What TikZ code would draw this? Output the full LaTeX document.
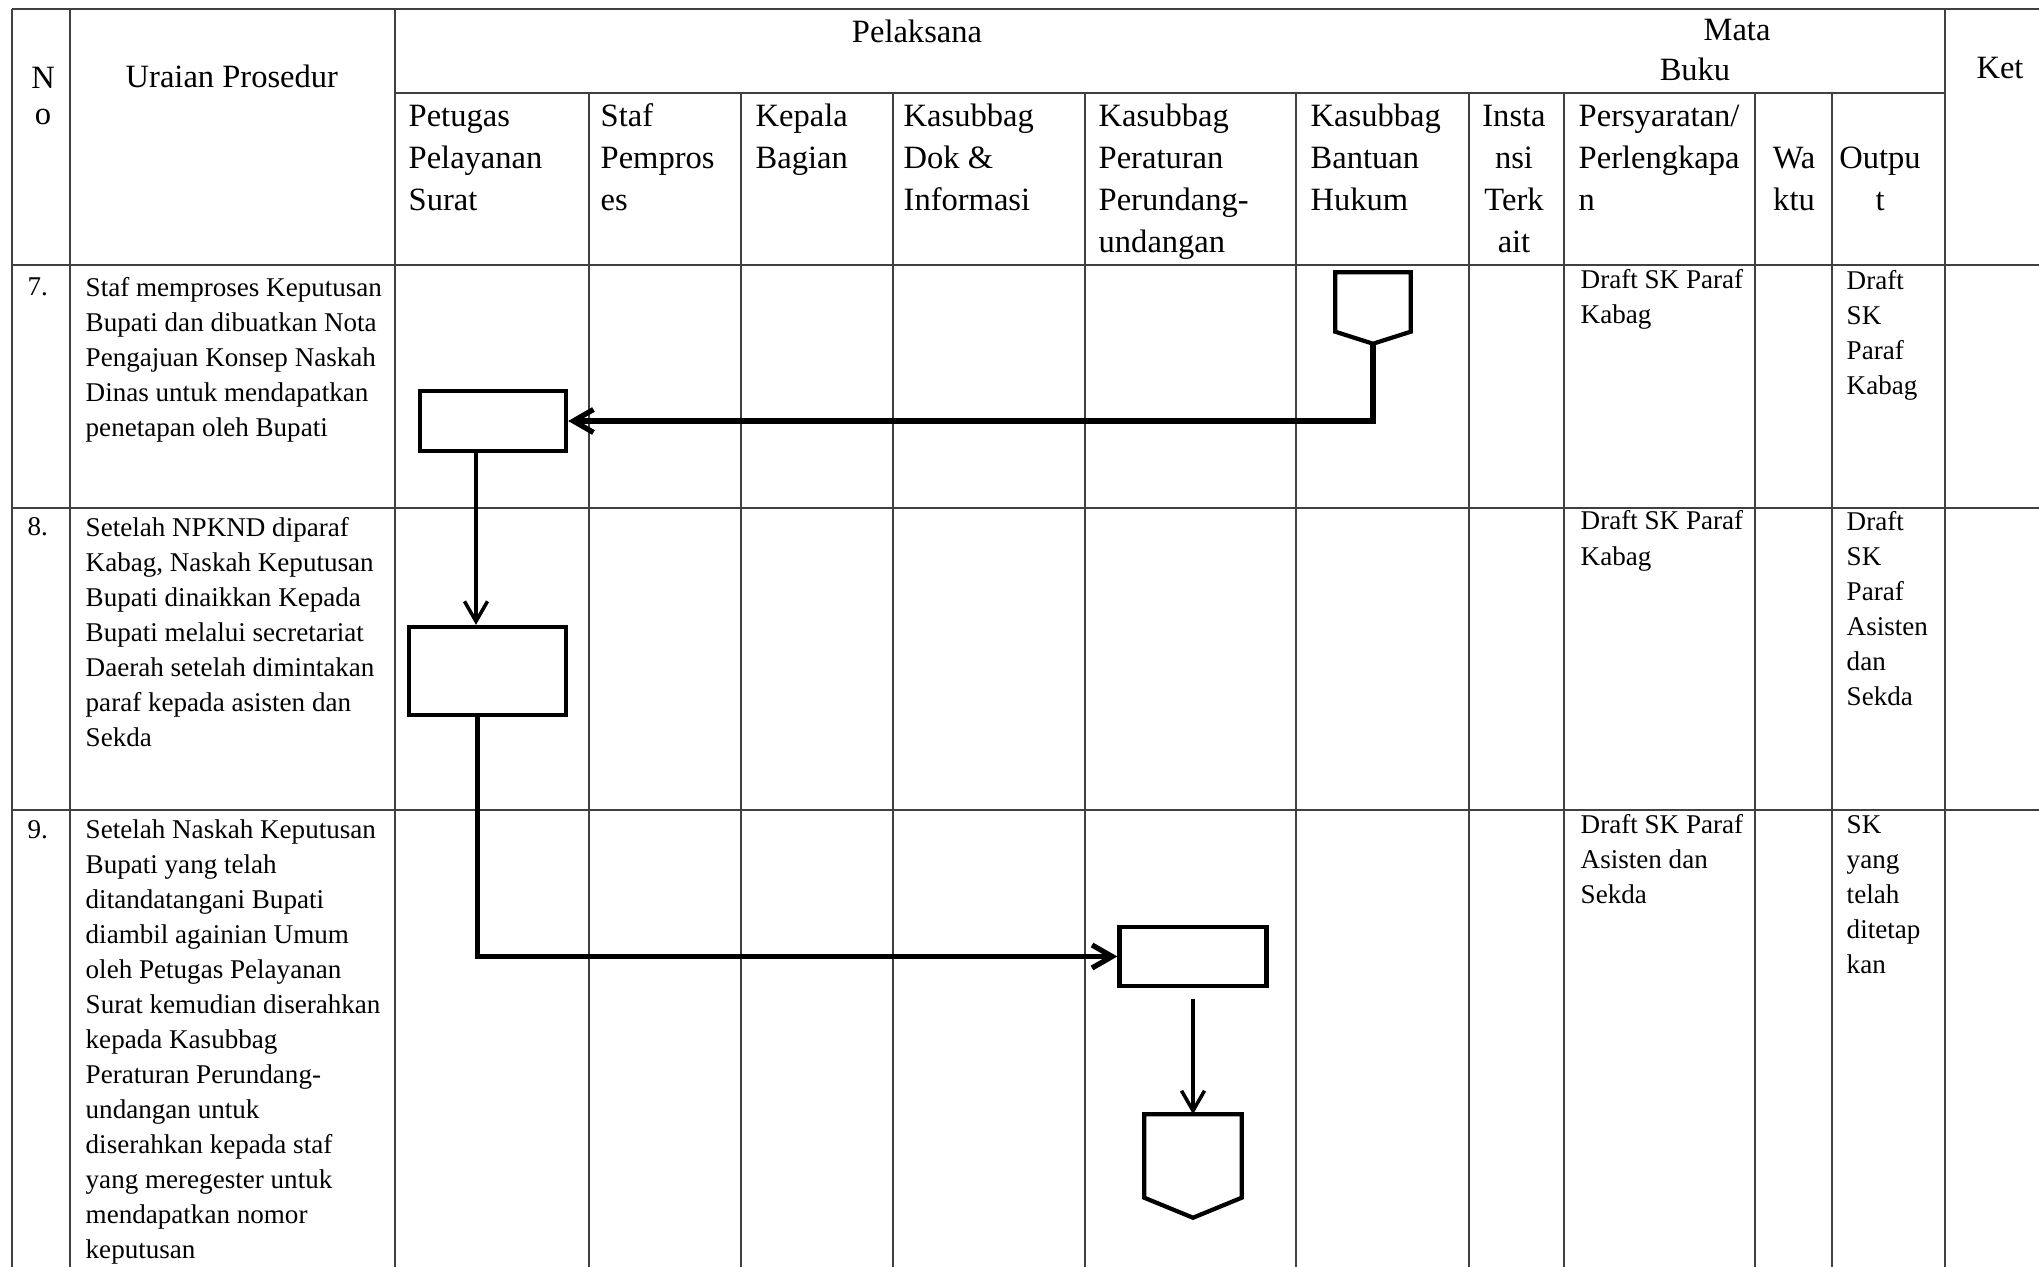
\documentclass[tikz,border=0pt]{standalone}
\usepackage{fontspec}
\setmainfont{Liberation Serif}
\usetikzlibrary{arrows.meta,calc}

\newcommand{\offpagepath}[2]{\draw[shapeline] (#1.north west) -- (#1.north east) -- ([yshift=#2]#1.south east) -- (#1.south) -- ([yshift=#2]#1.south west) -- cycle;}

\tikzset{
	grid/.style={line width=0.6pt, black!75},
	head/.style={font=\fontsize{9.25}{11.87}\selectfont, inner sep=0, align=left, anchor=base west},
	cell/.style={font=\fontsize{7.7}{9.96}\selectfont, inner sep=0, align=left, anchor=base west},
	proc/.style={rectangle, draw, line width=1.2pt, inner sep=0},
	offpg/.style={rectangle, inner sep=0},
	shapeline/.style={line width=1.2pt, line join=miter},
	flow/.style={line width=1.5pt},
	link/.style={line width=1pt},
	>={Straight Barb[length=0.2cm, width=0.23cm]}
}

\begin{document}
\begin{tikzpicture}[x=0.01cm, y=-0.01cm]
		\useasboundingbox (0,0) rectangle (2039,1267);

		\draw[grid] (12,9) -- (2039,9);
		\draw[grid] (395,93) -- (1945,93);
		\draw[grid] (12,265) -- (2039,265);
		\draw[grid] (12,508) -- (2039,508);
		\draw[grid] (12,810) -- (2039,810);
		\foreach \x in {12,70,395,1945} \draw[grid] (\x,9) -- (\x,1267);
		\foreach \x in {589,741,893,1085,1296,1469,1564,1755,1832} \draw[grid] (\x,93) -- (\x,1267);

		\path (43,125) node[head, anchor=base, align=center, font=\fontsize{9.25}{10.24}\selectfont] (hno) {N\\o}
  		(125,88) node[head] (hur) {Uraian Prosedur}
  		(917,43) node[head, anchor=base] (hpel) {Pelaksana}
  		(1737,41) node[head, anchor=base] (hmata) {Mata}
  		(1695,81) node[head, anchor=base] (hbuku) {Buku}
  		(2000,79) node[head, anchor=base] (hket) {Ket}
  		(408,210.4) node[head] (hpet) {Petugas\\Pelayanan\\Surat}
  		(600,210.4) node[head] (hstaf) {Staf\\Pempros\\es}
  		(755,168.7) node[head] (hkep) {Kepala\\Bagian}
  		(903,210.4) node[head] (hdok) {Kasubbag\\Dok \&\\Informasi}
  		(1098,252.1) node[head] (hper) {Kasubbag\\Peraturan\\Perundang-\\undangan}
  		(1310,210.4) node[head] (hbant) {Kasubbag\\Bantuan\\Hukum}
  		(1514,252.1) node[head, anchor=base, align=center] (hins) {Insta\\nsi\\Terk\\ait}
  		(1578,210.4) node[head] (hsyar) {Persyaratan/\\Perlengkapa\\n}
  		(1794,210.7) node[head, anchor=base, align=center] (hwak) {Wa\\ktu}
  		(1880,210.7) node[head, anchor=base, align=center] (hout) {Outpu\\t};

		\path (27,296) node[cell] (n7) {7.}
  		(85,436.2) node[cell] (u7) {Staf memproses Keputusan\\Bupati dan dibuatkan Nota\\Pengajuan Konsep Naskah\\Dinas untuk mendapatkan\\penetapan oleh Bupati}
  		(1580,324) node[cell] (p7) {Draft SK Paraf\\Kabag}
  		(1846,394.1) node[cell] (o7) {Draft\\SK\\Paraf\\Kabag}
  		(27,536) node[cell] (n8) {8.}
  		(85,746.2) node[cell] (u8) {Setelah NPKND diparaf\\Kabag, Naskah Keputusan\\Bupati dinaikkan Kepada\\Bupati melalui secretariat\\Daerah setelah dimintakan\\paraf kepada asisten dan\\Sekda}
  		(1580,565) node[cell] (p8) {Draft SK Paraf\\Kabag}
  		(1846,705.2) node[cell] (o8) {Draft\\SK\\Paraf\\Asisten\\dan\\Sekda}
  		(27,838) node[cell] (n9) {9.}
  		(85,1258.5) node[cell] (u9) {Setelah Naskah Keputusan\\Bupati yang telah\\ditandatangani Bupati\\diambil againian Umum\\oleh Petugas Pelayanan\\Surat kemudian diserahkan\\kepada Kasubbag\\Peraturan Perundang-\\undangan untuk\\diserahkan kepada staf\\yang meregester untuk\\mendapatkan nomor\\keputusan}
  		(1580,903.1) node[cell] (p9) {Draft SK Paraf\\Asisten dan\\Sekda}
  		(1846,973.2) node[cell] (o9) {SK\\yang\\telah\\ditetap\\kan};

		\path (493,421) node[proc, minimum width=1.46cm, minimum height=0.60cm] (box1) {}
  		(487.5,671) node[proc, minimum width=1.57cm, minimum height=0.88cm] (box2) {}
  		(1193,956.5) node[proc, minimum width=1.47cm, minimum height=0.59cm] (box3) {}
  		(1373,308) node[offpg, minimum width=0.74cm, minimum height=0.70cm] (op1) {}
  		(1193,1166) node[offpg, minimum width=0.96cm, minimum height=1.02cm] (op2) {};
		\offpagepath{op1}{0.12cm}
		\offpagepath{op2}{0.20cm}

		\draw[flow, ->] (op1.south) |- (box1.east);
		\draw[link, ->] ([xshift=-0.17cm]box1.south) -- ([xshift=-0.17cm]box1.south |- box2.north);
		\draw[flow, ->] ([xshift=-0.1cm]box2.south) |- (box3.west);
		\draw[link, ->] ([yshift=-0.11cm]box3.south) -- (op2.north);
	\end{tikzpicture}
\end{document}
